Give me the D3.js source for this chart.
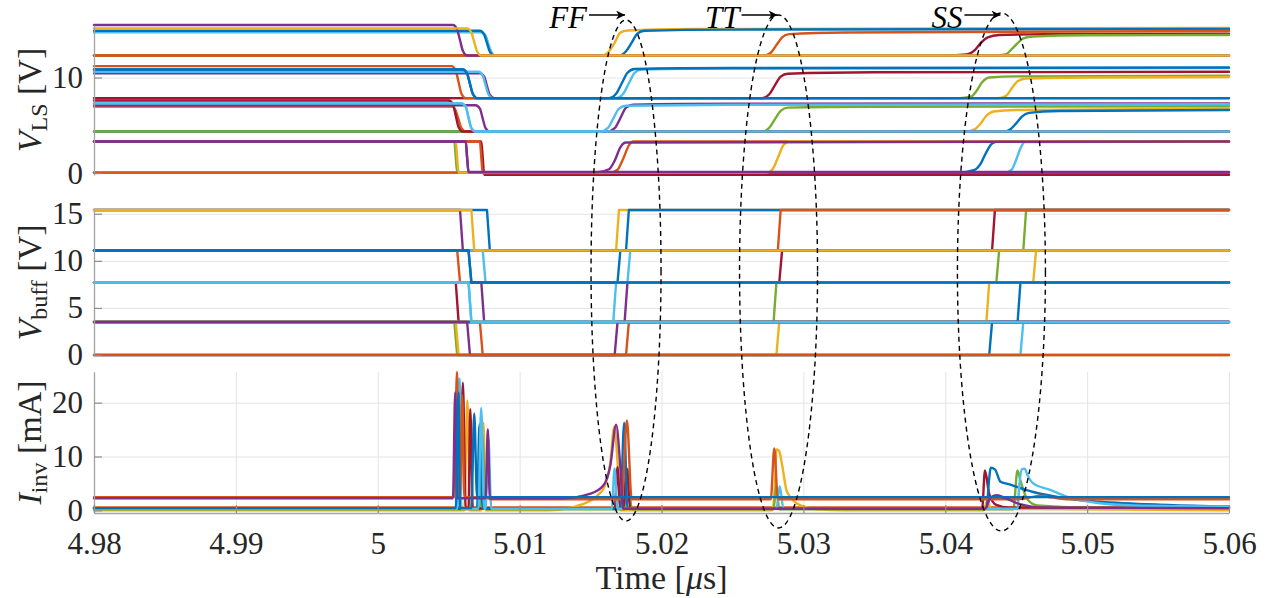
<!DOCTYPE html>
<html>
<head>
<meta charset="utf-8">
<script src="https://cdn.jsdelivr.net/npm/d3@7"></script>
<style>
  body { margin: 0; background: #fff; }
  svg { display: block; font-family: "Liberation Serif", "DejaVu Serif", serif; }
  .grid line { stroke: #e4e4e4; stroke-width: 1; }
  .grid path { display: none; }
  .axis path { stroke: #a3a3a3; stroke-width: 1.3; }
  .axis line { stroke: #8e8e8e; stroke-width: 1.2; }
  .trace { fill: none; stroke-width: 2.4; stroke-linejoin: round; stroke-linecap: round; }
  .lbl { font-size: 34px; fill: #262626; }
</style>
</head>
<body>
<script>
// MATLAB default colour order, series refer to it by index k
var palette = ['#0072BD', '#D95319', '#EDB120', '#7E2F8E', '#77AC30', '#4DBEEE', '#A2142F'];

var timeDomain = [4.98, 5.06];
var timeTicks = [4.98, 4.99, 5, 5.01, 5.02, 5.03, 5.04, 5.05, 5.06];
var timeTickLabels = ['4.98', '4.99', '5', '5.01', '5.02', '5.03', '5.04', '5.05', '5.06'];

var lsDomain = [-0.2, 15.5];
var lsTicks = [0, 10];
var buffDomain = [0, 15.4];
var buffTicks = [0, 5, 10, 15];
var invDomain = [-0.5, 25.7];
var invTicks = [0, 10, 20];

var lsLabel = ['V', 'LS', ' [V]'];
var buffLabel = ['V', 'buff', ' [V]'];
var invLabel = ['I', 'inv', ' [mA]'];

var cornerNames = ['FF', 'TT', 'SS'];
var cornerTimes = [5.0175, 5.02825, 5.04396];

// level-shifter outputs [time in us, volts]
var lsSeries = [
  // top stage
  {k: 2, p: [[4.98, 12.3], [5.0158, 12.3], [5.0163, 12.75], [5.0167, 13.65], [5.0171, 14.7], [5.0176, 14.92], [5.022, 15.08], [5.06, 15.2]]},
  {k: 6, p: [[4.98, 12.3], [5.040, 12.3], [5.0415, 12.42], [5.0421, 12.9], [5.0425, 13.6], [5.043, 14.2], [5.0438, 14.45], [5.047, 14.55], [5.06, 14.6]]},
  {k: 4, p: [[4.98, 12.3], [5.0435, 12.3], [5.0443, 12.45], [5.0447, 13.0], [5.0451, 13.6], [5.0455, 14.1], [5.0462, 14.3], [5.05, 14.42], [5.06, 14.45]]},
  {k: 5, p: [[4.98, 14.73], [5.0073, 14.73], [5.0076, 14.4], [5.0078, 13.5], [5.008, 12.7], [5.0083, 12.3], [5.06, 12.3]]},
  {k: 0, p: [[4.98, 14.9], [5.0072, 14.9], [5.0075, 14.5], [5.0077, 13.6], [5.0079, 12.7], [5.0082, 12.3], [5.017, 12.3], [5.0175, 12.75], [5.0179, 13.65], [5.0183, 14.6], [5.0188, 14.9], [5.025, 15.02], [5.06, 15.08]]},
  {k: 1, p: [[4.98, 12.3], [5.0272, 12.3], [5.0277, 12.6], [5.0281, 13.4], [5.0285, 14.2], [5.029, 14.55], [5.033, 14.72], [5.06, 14.87]]},
  {k: 3, p: [[4.98, 15.5], [5.0053, 15.5], [5.0056, 15.0], [5.0058, 13.9], [5.006, 12.8], [5.0063, 12.3], [5.06, 12.3]]},
  {k: 2, p: [[4.98, 15.15], [5.0063, 15.15], [5.0066, 14.7], [5.0068, 13.7], [5.007, 12.75], [5.0073, 12.3], [5.06, 12.3]]},
  // third stage
  {k: 4, p: [[4.98, 7.85], [5.041, 7.85], [5.0418, 8.0], [5.0422, 8.6], [5.0426, 9.5], [5.0431, 10.0], [5.045, 10.12], [5.06, 10.2]]},
  {k: 2, p: [[4.98, 7.85], [5.0437, 7.85], [5.0443, 8.1], [5.0447, 8.9], [5.0451, 9.6], [5.0457, 9.9], [5.05, 10.0], [5.06, 10.05]]},
  {k: 6, p: [[4.98, 7.85], [5.0271, 7.85], [5.0276, 8.25], [5.028, 9.2], [5.0284, 10.1], [5.0289, 10.4], [5.035, 10.55], [5.06, 10.6]]},
  {k: 1, p: [[4.98, 11.2], [5.0052, 11.2], [5.0055, 10.7], [5.0057, 9.5], [5.0059, 8.3], [5.0062, 7.85], [5.06, 7.85]]},
  {k: 3, p: [[4.98, 10.45], [5.0072, 10.45], [5.0075, 10.1], [5.0077, 9.1], [5.0079, 8.2], [5.0082, 7.85], [5.06, 7.85]]},
  {k: 5, p: [[4.98, 10.6], [5.0071, 10.6], [5.0074, 10.2], [5.0076, 9.2], [5.0078, 8.25], [5.0081, 7.85], [5.0168, 7.85], [5.0173, 8.3], [5.0177, 9.4], [5.0181, 10.5], [5.0186, 10.85], [5.025, 10.95], [5.06, 11.0]]},
  {k: 0, p: [[4.98, 10.85], [5.006, 10.85], [5.0063, 10.4], [5.0065, 9.35], [5.0067, 8.3], [5.007, 7.85], [5.0163, 7.85], [5.0168, 8.3], [5.0172, 9.4], [5.0176, 10.5], [5.0181, 10.9], [5.025, 11.0], [5.06, 11.05]]},
  {k: 0, p: [[4.98, 10.85], [5.006, 10.85], [5.0063, 10.4], [5.0065, 9.35], [5.0067, 8.3], [5.007, 7.85], [5.06, 7.85]]},
  // second stage
  {k: 2, p: [[4.98, 4.35], [5.0415, 4.35], [5.0421, 4.6], [5.0425, 5.2], [5.0429, 6.0], [5.0434, 6.45], [5.045, 6.6], [5.06, 6.75]]},
  {k: 0, p: [[4.98, 4.35], [5.0441, 4.35], [5.0446, 4.6], [5.045, 5.2], [5.0454, 5.9], [5.0459, 6.3], [5.048, 6.5], [5.06, 6.6]]},
  {k: 4, p: [[4.98, 4.35], [5.0271, 4.35], [5.0276, 4.75], [5.028, 5.65], [5.0284, 6.5], [5.0289, 6.85], [5.035, 6.95], [5.06, 7.0]]},
  {k: 1, p: [[4.98, 6.96], [5.0053, 6.96], [5.0055, 6.5], [5.0057, 5.6], [5.0059, 4.7], [5.0062, 4.35], [5.06, 4.35]]},
  {k: 6, p: [[4.98, 7.6], [5.005, 7.6], [5.0053, 7.2], [5.0055, 6.0], [5.0057, 4.8], [5.006, 4.35], [5.06, 4.35]]},
  {k: 3, p: [[4.98, 7.1], [5.0069, 7.1], [5.0072, 6.75], [5.0074, 5.7], [5.0076, 4.7], [5.0079, 4.35], [5.0162, 4.35], [5.0167, 4.7], [5.0171, 5.75], [5.0175, 6.85], [5.018, 7.15], [5.025, 7.25], [5.06, 7.3]]},
  {k: 5, p: [[4.98, 7.3], [5.0059, 7.3], [5.0062, 6.95], [5.0064, 5.8], [5.0066, 4.7], [5.0069, 4.35], [5.0157, 4.35], [5.0162, 4.7], [5.0166, 5.7], [5.017, 6.75], [5.0175, 7.05], [5.025, 7.15], [5.06, 7.2]]},
  {k: 5, p: [[4.98, 7.3], [5.0059, 7.3], [5.0062, 6.95], [5.0064, 5.8], [5.0066, 4.7], [5.0069, 4.35], [5.06, 4.35]]},
  // first stage
  {k: 0, p: [[4.98, 0.05], [5.041, 0.05], [5.042, 0.3], [5.0425, 1.0], [5.0429, 2.2], [5.0433, 3.1], [5.0437, 3.3], [5.06, 3.3]]},
  {k: 5, p: [[4.98, 0.05], [5.0442, 0.05], [5.0447, 0.4], [5.045, 1.4], [5.0453, 2.6], [5.0456, 3.25], [5.06, 3.3]]},
  {k: 4, p: [[4.98, 3.3], [5.0054, 3.3], [5.0055, 1.65], [5.0056, 0.05], [5.06, 0.05]]},
  {k: 1, p: [[4.98, 0.05], [5.06, 0.05]]},
  {k: 6, p: [[4.98, 3.3], [5.0073, 3.3], [5.0074, 1.6], [5.0075, -0.18], [5.06, -0.18]]},
  {k: 1, p: [[4.98, 3.3], [5.0072, 3.3], [5.0073, 1.6], [5.0074, 0.0], [5.0163, 0.0], [5.0169, 0.35], [5.0173, 1.5], [5.0177, 2.9], [5.018, 3.3], [5.06, 3.3]]},
  {k: 2, p: [[4.98, 3.3], [5.0055, 3.3], [5.0056, 1.6], [5.0057, 0.05], [5.0274, 0.05], [5.0278, 0.35], [5.0282, 1.6], [5.0286, 2.95], [5.029, 3.3], [5.06, 3.3]]},
  {k: 3, p: [[4.98, 3.3], [5.0062, 3.3], [5.0063, 1.6], [5.0064, 0.1], [5.0155, 0.1], [5.0163, 0.4], [5.0167, 1.3], [5.0171, 2.7], [5.0175, 3.2], [5.06, 3.3]]},
  {k: 3, p: [[4.98, 3.3], [5.0062, 3.3], [5.0063, 1.6], [5.0064, 0.12], [5.06, 0.12]]}
];

// buffer outputs [time in us, volts]
var buffSeries = [
  {k: 2, p: [[4.98, 11.1], [5.0168, 11.1], [5.017, 15.4], [5.06, 15.4]]},
  {k: 6, p: [[4.98, 11.1], [5.0433, 11.1], [5.0435, 15.4], [5.06, 15.4]]},
  {k: 4, p: [[4.98, 11.1], [5.0455, 11.1], [5.0457, 15.4], [5.06, 15.4]]},
  {k: 0, p: [[4.98, 15.4], [5.0077, 15.4], [5.0079, 11.1], [5.0175, 11.1], [5.0177, 15.4], [5.06, 15.4]]},
  {k: 1, p: [[4.98, 11.1], [5.0282, 11.1], [5.0284, 15.4], [5.06, 15.4]]},
  {k: 3, p: [[4.98, 15.4], [5.0058, 15.4], [5.006, 11.1], [5.06, 11.1]]},
  {k: 1, p: [[4.98, 11.1], [5.0056, 11.1], [5.0058, 7.7], [5.06, 7.7]]},
  {k: 5, p: [[4.98, 11.1], [5.0074, 11.1], [5.0076, 7.7], [5.0176, 7.7], [5.0178, 11.1], [5.06, 11.1]]},
  {k: 6, p: [[4.98, 7.7], [5.0283, 7.7], [5.0285, 11.1], [5.06, 11.1]]},
  {k: 4, p: [[4.98, 7.7], [5.0436, 7.7], [5.0438, 11.1], [5.06, 11.1]]},
  {k: 2, p: [[4.98, 7.7], [5.0462, 7.7], [5.0464, 11.1], [5.06, 11.1]]},
  {k: 0, p: [[4.98, 11.1], [5.0064, 11.1], [5.0066, 7.7], [5.0169, 7.7], [5.0171, 11.1], [5.06, 11.1]]},
  {k: 4, p: [[4.98, 3.5], [5.0054, 3.5], [5.0056, 0], [5.06, 0]]},
  {k: 2, p: [[4.98, 3.5], [5.0055, 3.5], [5.0057, 0], [5.0281, 0], [5.0283, 3.5], [5.06, 3.5]]},
  {k: 1, p: [[4.98, 3.5], [5.0072, 3.5], [5.0074, 0], [5.0175, 0], [5.0177, 3.5], [5.06, 3.5]]},
  {k: 0, p: [[4.98, 0], [5.0431, 0], [5.0433, 3.5], [5.06, 3.5]]},
  {k: 5, p: [[4.98, 0], [5.0453, 0], [5.0455, 3.5], [5.06, 3.5]]},
  {k: 6, p: [[4.98, 7.7], [5.0055, 7.7], [5.0057, 3.5], [5.06, 3.5]]},
  {k: 3, p: [[4.98, 7.7], [5.0073, 7.7], [5.0075, 3.5], [5.0174, 3.5], [5.0176, 7.7], [5.06, 7.7]]},
  {k: 4, p: [[4.98, 3.5], [5.0279, 3.5], [5.0281, 7.7], [5.06, 7.7]]},
  {k: 2, p: [[4.98, 3.5], [5.0429, 3.5], [5.0431, 7.7], [5.06, 7.7]]},
  {k: 0, p: [[4.98, 3.5], [5.0451, 3.5], [5.0453, 7.7], [5.06, 7.7]]},
  {k: 5, p: [[4.98, 7.7], [5.0064, 7.7], [5.0066, 3.5], [5.0166, 3.5], [5.0168, 7.7], [5.06, 7.7]]},
  {k: 3, p: [[4.98, 3.5], [5.0063, 3.5], [5.0065, 0], [5.0167, 0], [5.0169, 3.5], [5.06, 3.5]]},
  {k: 5, p: [[4.98, 7.7], [5.0064, 7.7], [5.0066, 3.5], [5.06, 3.5]]},
  {k: 0, p: [[4.98, 11.1], [5.0064, 11.1], [5.0066, 7.7], [5.06, 7.7]]},
  {k: 1, p: [[4.98, 0], [5.06, 0]]},
  {k: 2, p: [[4.98, 15.4], [5.0066, 15.4], [5.0068, 11.1], [5.06, 11.1]]}
];

// inverter currents [time in us, mA]
var invSeries = [
  {k: 1, p: [[4.98, 0.55], [5.06, 0.55]]},
  {k: 2, p: [[4.98, 0], [5.0061, 0], [5.00632, 20.4], [5.0065, 0], [5.0073, 0], [5.00745, 16.3], [5.0076, 0], [5.012, 0], [5.0145, 1.2], [5.0155, 2.8], [5.016, 4.5], [5.0164, 9], [5.01667, 15.5], [5.0169, 9], [5.0171, 0], [5.0278, 0], [5.028, 5], [5.0281, 11.3], [5.0283, 11], [5.0285, 8.4], [5.02885, 3.4], [5.0298, 0.9], [5.031, 0.2], [5.033, 0], [5.0427, 0], [5.04297, 1.9], [5.0432, 0.3], [5.06, 0]]},
  {k: 4, p: [[4.98, 0.2], [5.0072, 0.2], [5.00738, 13.9], [5.0076, 0.2], [5.0174, 0.2], [5.01763, 7.6], [5.0179, 0.2], [5.0279, 0.2], [5.02809, 4.6], [5.0283, 0.2], [5.0448, 0.2], [5.04509, 7.4], [5.0453, 5.5], [5.0458, 2.0], [5.0465, 0.9], [5.05, 0.5], [5.06, 0.45]]},
  {k: 6, p: [[4.98, 0.35], [5.0058, 0.35], [5.006, 23.7], [5.0062, 0.35], [5.0064, 0.35], [5.00652, 18.8], [5.0067, 0.35], [5.0167, 0.35], [5.0169, 8.0], [5.0171, 0.35], [5.0173, 0.35], [5.01755, 7.8], [5.0178, 0.35], [5.0426, 0.35], [5.0428, 7.4], [5.0431, 3.0], [5.0436, 1.0], [5.0445, 0.5], [5.06, 0.4]]},
  {k: 0, p: [[4.98, 0.3], [5.007, 0.3], [5.00717, 16], [5.0074, 0.3], [5.0171, 0.3], [5.01737, 16.3], [5.0176, 0.3], [5.0429, 0.3], [5.0431, 6.0], [5.0432, 7.9], [5.0435, 7.6], [5.0439, 5.3], [5.0444, 4.9], [5.0462, 3.4], [5.0486, 2.2], [5.0509, 1.6], [5.0557, 1.0], [5.06, 0.7]]},
  {k: 5, p: [[4.98, 0.3], [5.0056, 0.3], [5.00576, 24.5], [5.0059, 0.3], [5.0071, 0.3], [5.00729, 19], [5.0075, 0.3], [5.0076, 0.3], [5.0078, 13.3], [5.008, 0.3], [5.0165, 0.3], [5.01669, 7.8], [5.0169, 0.3], [5.0281, 0.3], [5.02833, 4.5], [5.0286, 0.3], [5.0451, 0.3], [5.0452, 4.0], [5.0454, 7.6], [5.0456, 7.75], [5.0458, 6.5], [5.0462, 5.0], [5.0474, 3.8], [5.0486, 2.5], [5.0509, 1.3], [5.0533, 0.9], [5.06, 0.7]]},
  {k: 1, p: [[4.98, 2.45], [5.0054, 2.45], [5.00558, 25.7], [5.0057, 2.45], [5.0058, 2.45], [5.00595, 21.4], [5.0061, 2.45], [5.0075, 2.45], [5.008, 2.05], [5.0172, 2.05], [5.01756, 16.7], [5.0179, 2.05], [5.0277, 2.05], [5.02795, 11.5], [5.0282, 2.05], [5.045, 2.05], [5.0462, 2.5], [5.0467, 2.7], [5.0475, 2.4], [5.0485, 2.05], [5.06, 2.05]]},
  {k: 3, p: [[4.98, 2.25], [5.0053, 2.25], [5.00546, 21.9], [5.0056, 2.25], [5.0076, 2.25], [5.00776, 15.05], [5.0079, 2.25], [5.013, 2.25], [5.015, 3.1], [5.0159, 4.6], [5.0164, 8.4], [5.0168, 15.9], [5.0171, 8], [5.0173, 0.3], [5.0428, 0.3], [5.0432, 2.4], [5.04366, 2.8], [5.0442, 2.3], [5.0452, 1.2], [5.047, 0.5], [5.06, 0.4]]},
  {k: 0, p: [[4.98, 0.4], [5.0055, 0.4], [5.00569, 21.9], [5.0058, 0.4], [5.0066, 0.4], [5.0068, 18], [5.007, 2.45], [5.06, 2.45]]}
];

(function() {
    var w = 1280, h = 598,
        left = 94, right = 1229,
        tickFont = '"Liberation Serif", "DejaVu Serif", serif';

    var svg = d3.select('body').append('svg')
        .attr('width', w)
        .attr('height', h);

    var x = d3.scaleLinear().domain(timeDomain).range([left, right]);

    var panels = [
        {series: lsSeries, domain: lsDomain, ticks: lsTicks, top: 25, bottom: 175, label: lsLabel, vgrid: false, curve: d3.curveMonotoneX},
        {series: buffSeries, domain: buffDomain, ticks: buffTicks, top: 210, bottom: 355, label: buffLabel, vgrid: false, curve: d3.curveLinear},
        {series: invSeries, domain: invDomain, ticks: invTicks, top: 372, bottom: 513, label: invLabel, vgrid: true, curve: d3.curveMonotoneX}
    ];

    panels.forEach(function(pn, i) {
        var y = d3.scaleLinear().domain(pn.domain).range([pn.bottom, pn.top]);
        var g = svg.append('g');

        // grid first so the traces sit on top
        g.append('g').attr('class', 'grid')
            .attr('transform', 'translate(' + left + ',0)')
            .call(d3.axisLeft(y).tickValues(pn.ticks).tickSize(-(right - left)).tickFormat(''));
        if (pn.vgrid) {
            g.append('g').attr('class', 'grid')
                .attr('transform', 'translate(0,' + pn.bottom + ')')
                .call(d3.axisBottom(x).tickValues(timeTicks).tickSize(-(pn.bottom - pn.top)).tickFormat(''));
        }

        var line = d3.line()
            .x(function(d) { return x(d[0]); })
            .y(function(d) { return y(d[1]); })
            .curve(pn.curve);

        g.selectAll('path.trace')
            .data(pn.series)
            .enter()
            .append('path')
            .attr('class', 'trace')
            .attr('stroke', function(d) { return palette[d.k]; })
            .attr('d', function(d) { return line(d.p); });

        // y axis, ticks point inward like MATLAB
        g.append('g').attr('class', 'axis')
            .attr('transform', 'translate(' + left + ',0)')
            .call(d3.axisLeft(y).tickValues(pn.ticks).tickSizeInner(-8).tickSizeOuter(0).tickPadding(11))
            .attr('font-family', tickFont)
            .attr('font-size', 31)
            .selectAll('text').attr('fill', '#262626');

        if (i === panels.length - 1) {
            g.append('g').attr('class', 'axis')
                .attr('transform', 'translate(0,' + pn.bottom + ')')
                .call(d3.axisBottom(x).tickValues(timeTicks).tickSizeInner(-8).tickSizeOuter(0).tickPadding(19)
                    .tickFormat(function(d, j) { return timeTickLabels[j]; }))
                .attr('font-family', tickFont)
                .attr('font-size', 31)
                .selectAll('text').attr('fill', '#262626');
        }

        // rotated y label with a subscript
        var cy = (pn.top + pn.bottom) / 2;
        var t = svg.append('text')
            .attr('class', 'lbl')
            .attr('text-anchor', 'middle')
            .attr('transform', 'translate(41,' + cy + ') rotate(-90)');
        t.append('tspan').attr('font-style', 'italic').text(pn.label[0]);
        t.append('tspan').attr('font-size', '24px').attr('dy', 6).text(pn.label[1]);
        t.append('tspan').attr('dy', -6).text(pn.label[2]);
    });

    // x label
    var xl = svg.append('text')
        .attr('class', 'lbl')
        .attr('text-anchor', 'middle')
        .attr('font-size', '32px')
        .attr('x', (left + right) / 2)
        .attr('y', 589);
    xl.append('tspan').text('Time [');
    xl.append('tspan').attr('font-style', 'italic').text('\u03bc');
    xl.append('tspan').text('s]');

    /*
    Corner annotations: dashed ellipses across all three panels,
    label + arrow pointing at the top of each one.
    */
    var ellW = [35, 39, 44],
        ellTop = [20, 15, 13],
        ellBot = [521, 528, 531];
    var defs = svg.append('defs');
    defs.append('marker')
        .attr('id', 'head')
        .attr('viewBox', '0 0 10 10')
        .attr('refX', 10).attr('refY', 5)
        .attr('markerWidth', 12).attr('markerHeight', 9)
        .attr('markerUnits', 'userSpaceOnUse')
        .attr('orient', 'auto')
        .append('path')
        .attr('d', 'M0,0 L10,5 L0,10 L3,5 Z')
        .attr('fill', '#000');

    cornerNames.forEach(function(name, i) {
        var cx = x(cornerTimes[i]);
        svg.append('ellipse')
            .attr('cx', cx)
            .attr('cy', (ellTop[i] + ellBot[i]) / 2)
            .attr('rx', ellW[i])
            .attr('ry', (ellBot[i] - ellTop[i]) / 2)
            .attr('fill', 'none')
            .attr('stroke', '#000')
            .attr('stroke-width', 1.4)
            .attr('stroke-dasharray', '5,4');
        svg.append('line')
            .attr('x1', cx - 37).attr('x2', cx - 1)
            .attr('y1', 15).attr('y2', 15)
            .attr('stroke', '#000')
            .attr('stroke-width', 1.4)
            .attr('marker-end', 'url(#head)');
        svg.append('text')
            .attr('x', cx - 39)
            .attr('y', 28)
            .attr('text-anchor', 'end')
            .attr('font-style', 'italic')
            .attr('font-size', '31px')
            .attr('fill', '#000')
            .text(name);
    });
})();
</script>
</body>
</html>
